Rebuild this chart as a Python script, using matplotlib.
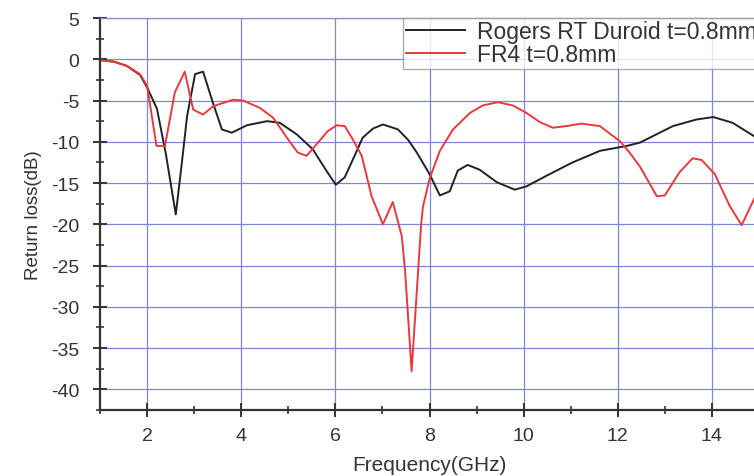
import numpy as np
import matplotlib.pyplot as plt
from matplotlib.ticker import MultipleLocator

plt.rcParams['font.family'] = ['Liberation Sans', 'DejaVu Sans']
plt.rcParams['axes.unicode_minus'] = False

# Rogers RT Duroid, t=0.8mm
f_rogers = [1.0, 1.3, 1.57, 1.85, 2.0, 2.21, 2.4, 2.61, 2.75, 2.85, 3.02, 3.19, 3.4,
            3.59, 3.8, 4.12, 4.55, 4.82, 5.18, 5.52, 5.82, 6.01, 6.2, 6.4,
            6.58, 6.8, 7.01, 7.33, 7.55, 7.73, 8.0, 8.22, 8.43, 8.6, 8.81,
            9.07, 9.43, 9.81, 10.06, 10.49, 11.04, 11.62, 12.19,
            12.47, 13.17, 13.67, 14.03, 14.44, 14.89, 15.0]
s11_rogers = [-0.1, -0.3, -0.8, -1.9, -3.4, -6.0, -11.5, -18.8, -12.0, -6.9, -1.8, -1.5, -5.3,
              -8.5, -8.9, -8.0, -7.5, -7.7, -9.1, -10.9, -13.6, -15.2, -14.3, -11.8,
              -9.5, -8.4, -7.9, -8.5, -9.8, -11.3, -13.9, -16.5, -16.0, -13.5, -12.8,
              -13.4, -14.9, -15.8, -15.4, -14.1, -12.5, -11.1, -10.5,
              -10.1, -8.1, -7.3, -7.0, -7.7, -9.3, -9.8]

# FR4, t=0.8mm
f_fr4 = [1.0, 1.3, 1.57, 1.85, 2.0, 2.2, 2.38, 2.59, 2.8, 2.98, 3.19, 3.4, 3.83,
         4.04, 4.4, 4.68, 4.97, 5.2, 5.39, 5.6, 5.84, 6.03, 6.2, 6.37, 6.56,
         6.77, 7.01, 7.22, 7.41, 7.48, 7.62, 7.82, 7.86, 8.0, 8.22, 8.5, 8.86,
         9.13, 9.45, 9.77, 10.06, 10.34, 10.62, 10.9, 11.23, 11.62, 12.04,
         12.25, 12.47, 12.83, 13.0, 13.31, 13.59, 13.78, 14.06, 14.38, 14.63,
         14.89, 15.0]
s11_fr4 = [-0.1, -0.3, -0.8, -1.8, -3.2, -10.5, -10.5, -4.0, -1.5, -6.1, -6.7, -5.7, -4.9,
           -5.0, -5.9, -7.1, -9.5, -11.3, -11.7, -10.3, -8.7, -8.0, -8.1, -9.7, -11.7,
           -16.6, -20.0, -17.3, -21.4, -25.5, -37.8, -20.2, -17.9, -14.5, -11.1, -8.5, -6.5,
           -5.6, -5.2, -5.6, -6.5, -7.6, -8.3, -8.1, -7.8, -8.1, -9.9,
           -11.3, -13.0, -16.6, -16.5, -13.7, -12.0, -12.2, -13.9, -17.8, -20.1,
           -17.0, -15.8]

fig = plt.figure(figsize=(7.54, 4.77), dpi=100)
ax = fig.add_axes([100 / 754, 66 / 477, 659 / 754, 392 / 477])

ax.plot(f_rogers, s11_rogers, color='#222222', lw=1.4, label='Rogers RT Duroid t=0.8mm')
ax.plot(f_fr4, s11_fr4, color='#e8393f', lw=1.4, label='FR4 t=0.8mm')

ax.set_xlim(1, 15)
ax.set_ylim(-42.5, 5)
ax.xaxis.set_minor_locator(MultipleLocator(1))
ax.yaxis.set_major_locator(MultipleLocator(5))
ax.yaxis.set_minor_locator(MultipleLocator(2.5))
ax.set_xticks(np.arange(2, 15, 2))

ax.grid(True, which='major', color='#7d86d8', lw=0.9)
ax.set_axisbelow(True)

for side in ['left', 'bottom']:
    ax.spines[side].set_linewidth(1.6)
    ax.spines[side].set_color('#333333')
for side in ['top', 'right']:
    ax.spines[side].set_linewidth(0.9)
    ax.spines[side].set_color('#8890c8')

ax.tick_params(which='major', direction='inout', length=10, width=1.4,
               color='#333333', labelsize=14, labelcolor='#333333')
ax.tick_params(axis='y', which='major', pad=10)
ax.tick_params(axis='x', which='major', pad=7)
ax.tick_params(which='minor', direction='inout', length=6, width=1.2, color='#333333')
ax.tick_params(top=False, right=False, which='both')

ax.set_xlabel('Frequency(GHz)', fontsize=15, labelpad=8, color='#333333')
ax.set_ylabel('Return loss(dB)', fontsize=13.5, labelpad=6, color='#333333')

leg = ax.legend(loc='upper right', fontsize=16.5, frameon=True, fancybox=False,
                borderaxespad=0, handlelength=2.6, handletextpad=0.5,
                borderpad=0.1, labelspacing=0.0)
leg.get_frame().set_edgecolor('#999999')
leg.get_frame().set_linewidth(1.0)
for txt in leg.get_texts():
    txt.set_color('#333333')

fig.savefig('out.png', dpi=100)
